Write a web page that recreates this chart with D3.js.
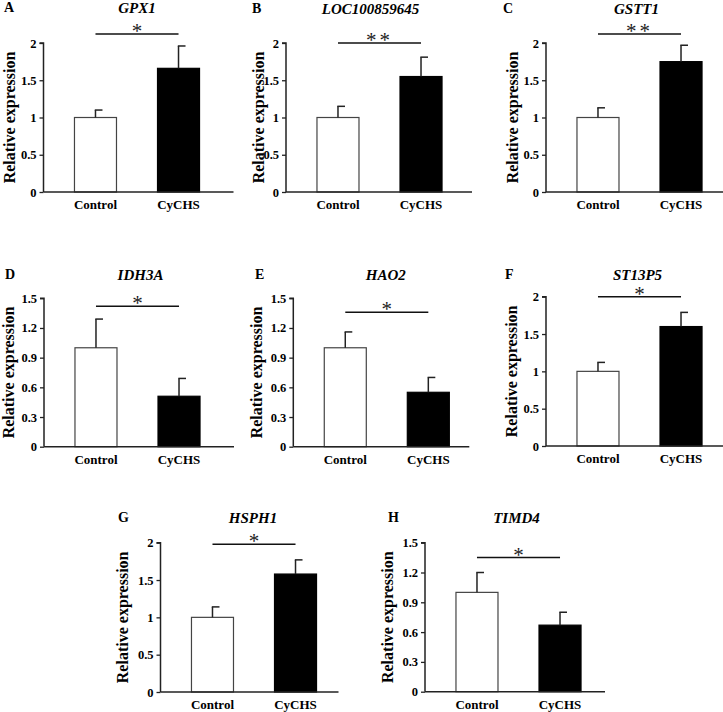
<!DOCTYPE html>
<html><head><meta charset="utf-8">
<script src="https://cdnjs.cloudflare.com/ajax/libs/d3/7.8.5/d3.min.js"></script>
<style>body{margin:0;background:#fff}svg{display:block}</style>
</head><body>
<script>
// ---- data ----
const panelLetters = ["A","B","C","D","E","F","G","H"];
const genes = ["GPX1","LOC100859645","GSTT1","IDH3A","HAO2","ST13P5","HSPH1","TIMD4"];
const groups = ["Control","CyCHS"];
const controlMeans = [1.00,1.00,1.00,1.00,1.00,1.00,1.00,1.00];
const controlErrTop = [1.10,1.15,1.13,1.29,1.16,1.12,1.14,1.20];
const cychsMeans = [1.66,1.55,1.75,0.51,0.55,1.60,1.58,0.67];
const cychsErrTop = [1.96,1.81,1.97,0.69,0.70,1.79,1.77,0.80];
const sigMarks = ["*","**","**","*","*","*","*","*"];
const sigLevel = [2.12,2.00,2.12,1.42,1.36,2.00,1.98,1.35];
const yMax = [2,2,2,1.5,1.5,2,2,1.5];
const ticksA = ["0","0.5","1","1.5","2"];
const ticksB = ["0","0.3","0.6","0.9","1.2","1.5"];
const tickLabels = [ticksA,ticksA,ticksA,ticksB,ticksB,ticksA,ticksA,ticksB];
const yTitle = "Relative expression";

// ---- layout ----
const layout = [
  {ax:43.5, y0:192,   yTop:43,    len:190, letterX:4,   labelDx:-34, titleY:13,  titleDx:0},
  {ax:286,  y0:192,   yTop:43,    len:186, letterX:252, labelDx:-27, titleY:14,  titleDx:-9},
  {ax:546,  y0:192,   yTop:43,    len:190, letterX:503, labelDx:-33, titleY:14,  titleDx:-3},
  {ax:44,   y0:446.7, yTop:298.3, len:190, letterX:5,   labelDx:-35, titleY:280, titleDx:3},
  {ax:293.3,y0:446.7, yTop:298.3, len:176, letterX:255, labelDx:-36, titleY:280, titleDx:-1},
  {ax:546,  y0:446,   yTop:296.7, len:190, letterX:505, labelDx:-34, titleY:280, titleDx:-2},
  {ax:160.5,y0:692,   yTop:542.7, len:178, letterX:118, labelDx:-38, titleY:523, titleDx:-1},
  {ax:425,  y0:691.7, yTop:542.7, len:180, letterX:388, labelDx:-37, titleY:523, titleDx:-2}
];
const FONT = "'Liberation Serif','Times New Roman',Times,serif";

const svg = d3.select("body").append("svg").attr("width",723).attr("height",712)
  .attr("font-family",FONT);

layout.forEach((L,i)=>{
  const g = svg.append("g").attr("font-family",FONT);
  const y = d3.scaleLinear().domain([0,yMax[i]]).range([L.y0,L.yTop]);
  const x = d3.scaleBand().domain(groups).range([L.ax, L.ax+187]).paddingInner(0.494).paddingOuter(0.373);
  const means = [controlMeans[i], cychsMeans[i]];
  const tops = [controlErrTop[i], cychsErrTop[i]];
  const bw = x.bandwidth();

  // bars
  g.selectAll("rect.bar").data(groups).enter().append("rect")
    .attr("x",d=>x(d)).attr("width",bw)
    .attr("y",(d,j)=>y(means[j])).attr("height",(d,j)=>L.y0-y(means[j]))
    .attr("fill",(d,j)=>j===0?"#fff":"#000")
    .attr("stroke",(d,j)=>j===0?"#444":"#000").attr("stroke-width",1.2);

  // error bars (upper only)
  groups.forEach((d,j)=>{
    const cx = x(d)+bw/2;
    g.append("line").attr("x1",cx).attr("x2",cx).attr("y1",y(means[j])).attr("y2",y(tops[j]))
      .attr("stroke","#222").attr("stroke-width",1.5);
    g.append("line").attr("x1",cx-0.7).attr("x2",cx+7).attr("y1",y(tops[j])).attr("y2",y(tops[j]))
      .attr("stroke","#222").attr("stroke-width",1.5);
  });

  // y axis
  const vals = tickLabels[i].map(Number);
  const yAxis = d3.axisLeft(y).tickValues(vals).tickSize(4).tickPadding(3)
    .tickFormat((d,k)=>tickLabels[i][k]);
  const ga = g.append("g").attr("transform",`translate(${L.ax},0)`).call(yAxis).attr("font-family",FONT);
  ga.select(".domain").attr("stroke","#222").attr("stroke-width",1.5).attr("d",`M-4,${L.yTop}H0V${L.y0}`);
  ga.selectAll(".tick line").attr("stroke","#222").attr("stroke-width",1.3);
  ga.selectAll(".tick text").attr("font-family",FONT).attr("font-weight","bold").attr("font-size",12.5).attr("fill","#000");

  // x axis
  g.append("line").attr("x1",L.ax).attr("x2",L.ax+L.len).attr("y1",L.y0).attr("y2",L.y0)
    .attr("stroke","#222").attr("stroke-width",1.5);
  g.selectAll("text.cat").data(groups).enter().append("text")
    .attr("x",d=>x(d)+bw/2).attr("y",L.y0+17).attr("text-anchor","middle")
    .attr("font-weight","bold").attr("font-size",13).attr("fill","#000").text(d=>d);

  // y title
  g.append("text").attr("transform",`translate(${L.ax+L.labelDx+5},${(L.y0+L.yTop)/2}) rotate(-90)`)
    .attr("text-anchor","middle").attr("font-weight","bold").attr("font-size",16).attr("fill","#000").text(yTitle);

  // significance
  const c0 = x(groups[0])+bw/2, c1 = x(groups[1])+bw/2;
  const sy = y(sigLevel[i]);
  g.append("line").attr("x1",c0).attr("x2",c1).attr("y1",sy).attr("y2",sy).attr("stroke","#111").attr("stroke-width",1.5);
  g.append("text").attr("x",(c0+c1)/2).attr("y",sy+4).attr("text-anchor","middle")
    .attr("font-size",21).attr("letter-spacing",sigMarks[i].length>1?"3px":"0px").attr("fill","#222").text(sigMarks[i]);

  // gene title
  g.append("text").attr("x",(c0+c1)/2+L.titleDx).attr("y",L.titleY).attr("text-anchor","middle")
    .attr("font-weight","bold").attr("font-style","italic").attr("font-size",15).attr("fill","#000").text(genes[i]);

  // panel letter
  g.append("text").attr("x",L.letterX).attr("y",L.titleY-1).attr("font-weight","bold").attr("font-size",14).attr("fill","#000").text(panelLetters[i]);
});
</script>
</body></html>
